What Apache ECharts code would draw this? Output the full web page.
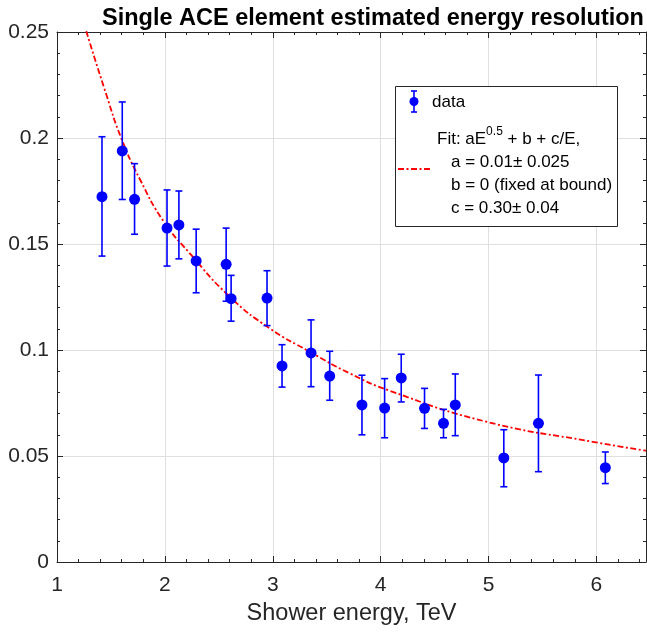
<!DOCTYPE html>
<html>
<head>
<meta charset="utf-8">
<script src="https://cdn.jsdelivr.net/npm/echarts@6/dist/echarts.min.js"></script>
<style>
html,body{margin:0;padding:0;background:#fff;}
#chart{width:647px;height:633px;}
</style>
</head>
<body>
<div id="chart"></div>
<script>
// ---- data ----
const energy     = [1.417, 1.605, 1.719, 2.02, 2.13, 2.29, 2.568, 2.614, 2.947, 3.086, 3.355, 3.528, 3.827, 4.037, 4.191, 4.407, 4.583, 4.692, 5.142, 5.463, 6.083];
const resolution = [0.1723, 0.1939, 0.1711, 0.1575, 0.159, 0.142, 0.1404, 0.1242, 0.1245, 0.0925, 0.0986, 0.0877, 0.0741, 0.0726, 0.0868, 0.0725, 0.0654, 0.0741, 0.0491, 0.0654, 0.0445];
const errLow     = [0.1443, 0.171, 0.1546, 0.1396, 0.143, 0.127, 0.123, 0.1136, 0.1115, 0.0825, 0.0827, 0.0763, 0.060, 0.0586, 0.0755, 0.063, 0.0586, 0.0596, 0.0355, 0.0426, 0.037];
const errHigh    = [0.2006, 0.217, 0.1879, 0.1755, 0.175, 0.157, 0.1575, 0.1352, 0.1374, 0.1025, 0.1142, 0.0994, 0.0881, 0.0865, 0.098, 0.0819, 0.072, 0.0887, 0.0624, 0.0882, 0.0519];
const fitEnergy  = [1.271, 1.457, 1.595, 1.771, 1.988, 2.231, 2.602, 2.972, 3.343, 3.713, 4.083, 4.979, 5.966, 6.46];
const fitRes     = [0.2504, 0.2205, 0.2, 0.1803, 0.1607, 0.1456, 0.1251, 0.1102, 0.0992, 0.089, 0.0808, 0.0662, 0.0567, 0.0525];
const xTicks = {min: 1, max: 6.46, major: 1, minor: 0.2};
const yTicks = {min: 0, max: 0.25, major: 0.05, minor: 0.01};

const titleText = 'Single ACE element estimated energy resolution';
const xName = 'Shower energy, TeV';

// ---- build ----
const FONT = 'Liberation Sans';
const AX = '#262626';
const pts = energy.map((e, i) => [e, resolution[i]]);
const bars = energy.map((e, i) => [e, errLow[i], errHigh[i]]);
const fit = fitEnergy.map((e, i) => [e, fitRes[i]]);

function xAx(pos, interval, major, extra) {
  return Object.assign({
    type: 'value', position: pos, min: xTicks.min, max: xTicks.max, interval: interval,
    axisLine: {show: major, onZero: false, lineStyle: {color: AX, width: 1}},
    axisTick: {show: true, inside: true, length: major ? 6 : 3, lineStyle: {color: AX, width: 1}},
    axisLabel: {show: false},
    splitLine: {show: false}
  }, extra || {});
}
function yAx(pos, interval, major, extra) {
  return Object.assign({
    type: 'value', position: pos, min: yTicks.min, max: yTicks.max, interval: interval,
    axisLine: {show: major, onZero: false, lineStyle: {color: AX, width: 1}},
    axisTick: {show: true, inside: true, length: major ? 6 : 3, lineStyle: {color: AX, width: 1}},
    axisLabel: {show: false},
    splitLine: {show: false}
  }, extra || {});
}

const chart = echarts.init(document.getElementById('chart'), null, {renderer: 'canvas'});
const option = {
  animation: false,
  backgroundColor: '#fff',
  title: {
    text: titleText, left: 368, top: 2, textAlign: 'center',
    textStyle: {fontFamily: FONT, fontWeight: 'bold', fontSize: 23.5, color: '#000'}
  },
  grid: {left: 57, right: 1, top: 32, bottom: 71, containLabel: false},
  xAxis: [
    xAx('bottom', xTicks.major, true, {
      axisLabel: {show: true, color: AX, fontFamily: FONT, fontSize: 21, margin: 13, showMaxLabel: false},
      splitLine: {show: true, lineStyle: {color: '#dfdfdf', width: 1}},
      name: xName, nameLocation: 'middle', nameGap: 40,
      nameTextStyle: {fontFamily: FONT, fontSize: 23.5, color: AX}
    }),
    xAx('bottom', xTicks.minor, false),
    xAx('top', xTicks.major, true),
    xAx('top', xTicks.minor, false)
  ],
  yAxis: [
    yAx('left', yTicks.major, true, {
      axisLabel: {show: true, color: AX, fontFamily: FONT, fontSize: 21, margin: 8},
      splitLine: {show: true, lineStyle: {color: '#dfdfdf', width: 1}}
    }),
    yAx('left', yTicks.minor, false),
    yAx('right', yTicks.major, true),
    yAx('right', yTicks.minor, false)
  ],
  series: [
    {
      type: 'line', data: fit, xAxisIndex: 0, yAxisIndex: 0,
      smooth: 0.5, showSymbol: false, clip: true,
      lineStyle: {color: '#ff0000', width: 1.8, type: [6, 2.5, 2, 2.5]},
      z: 3
    },
    {
      type: 'custom', data: bars, xAxisIndex: 0, yAxisIndex: 0,
      encode: {x: 0, y: [1, 2]},
      renderItem: function (params, api) {
        const x = api.value(0);
        const lo = api.coord([x, api.value(1)]);
        const hi = api.coord([x, api.value(2)]);
        const hw = 3.5;
        const st = {stroke: '#0000ff', lineWidth: 1.6};
        return {type: 'group', children: [
          {type: 'line', shape: {x1: hi[0], y1: hi[1], x2: lo[0], y2: lo[1]}, style: st},
          {type: 'line', shape: {x1: hi[0] - hw, y1: hi[1], x2: hi[0] + hw, y2: hi[1]}, style: st},
          {type: 'line', shape: {x1: lo[0] - hw, y1: lo[1], x2: lo[0] + hw, y2: lo[1]}, style: st}
        ]};
      },
      z: 4
    },
    {
      type: 'scatter', data: pts, xAxisIndex: 0, yAxisIndex: 0,
      symbol: 'circle', symbolSize: 11,
      itemStyle: {color: '#0000ff', opacity: 1}, z: 5
    }
  ],
  graphic: [
    {type: 'rect', left: 395, top: 86, shape: {width: 222, height: 140},
     style: {fill: '#fff', stroke: AX, lineWidth: 1}, z: 100},
    {type: 'line', shape: {x1: 414, y1: 91, x2: 414, y2: 112}, style: {stroke: '#0000ff', lineWidth: 1.6}, z: 101},
    {type: 'line', shape: {x1: 411, y1: 91, x2: 417, y2: 91}, style: {stroke: '#0000ff', lineWidth: 1.6}, z: 101},
    {type: 'line', shape: {x1: 411, y1: 112, x2: 417, y2: 112}, style: {stroke: '#0000ff', lineWidth: 1.6}, z: 101},
    {type: 'circle', shape: {cx: 414, cy: 101.5, r: 4.5}, style: {fill: '#0000ff'}, z: 101},
    {type: 'text', x: 432, y: 102, style: {text: 'data', font: '17px "Liberation Sans"', fill: '#000', verticalAlign: 'middle'}, z: 101},
    {type: 'line', shape: {x1: 398, y1: 169, x2: 431, y2: 169}, style: {stroke: '#ff0000', lineWidth: 1.8, lineDash: [6, 2.5, 2, 2.5]}, z: 101},
    {type: 'text', x: 437, y: 126, style: {
      text: '{n|Fit: aE}{s|0.5}{n| + b + c/E,}',
      rich: {
        n: {fontFamily: FONT, fontSize: 17, color: '#000', lineHeight: 26, verticalAlign: 'middle'},
        s: {fontFamily: FONT, fontSize: 12, color: '#000', lineHeight: 12, verticalAlign: 'top'}
      }}, z: 101},
    {type: 'text', x: 451, y: 162, style: {text: 'a = 0.01\u00b1 0.025', font: '17px "Liberation Sans"', fill: '#000', verticalAlign: 'middle'}, z: 101},
    {type: 'text', x: 451, y: 185, style: {text: 'b = 0 (fixed at bound)', font: '17px "Liberation Sans"', fill: '#000', verticalAlign: 'middle'}, z: 101},
    {type: 'text', x: 451, y: 208, style: {text: 'c = 0.30\u00b1 0.04', font: '17px "Liberation Sans"', fill: '#000', verticalAlign: 'middle'}, z: 101}
  ]
};
chart.setOption(option);
</script>
</body>
</html>
